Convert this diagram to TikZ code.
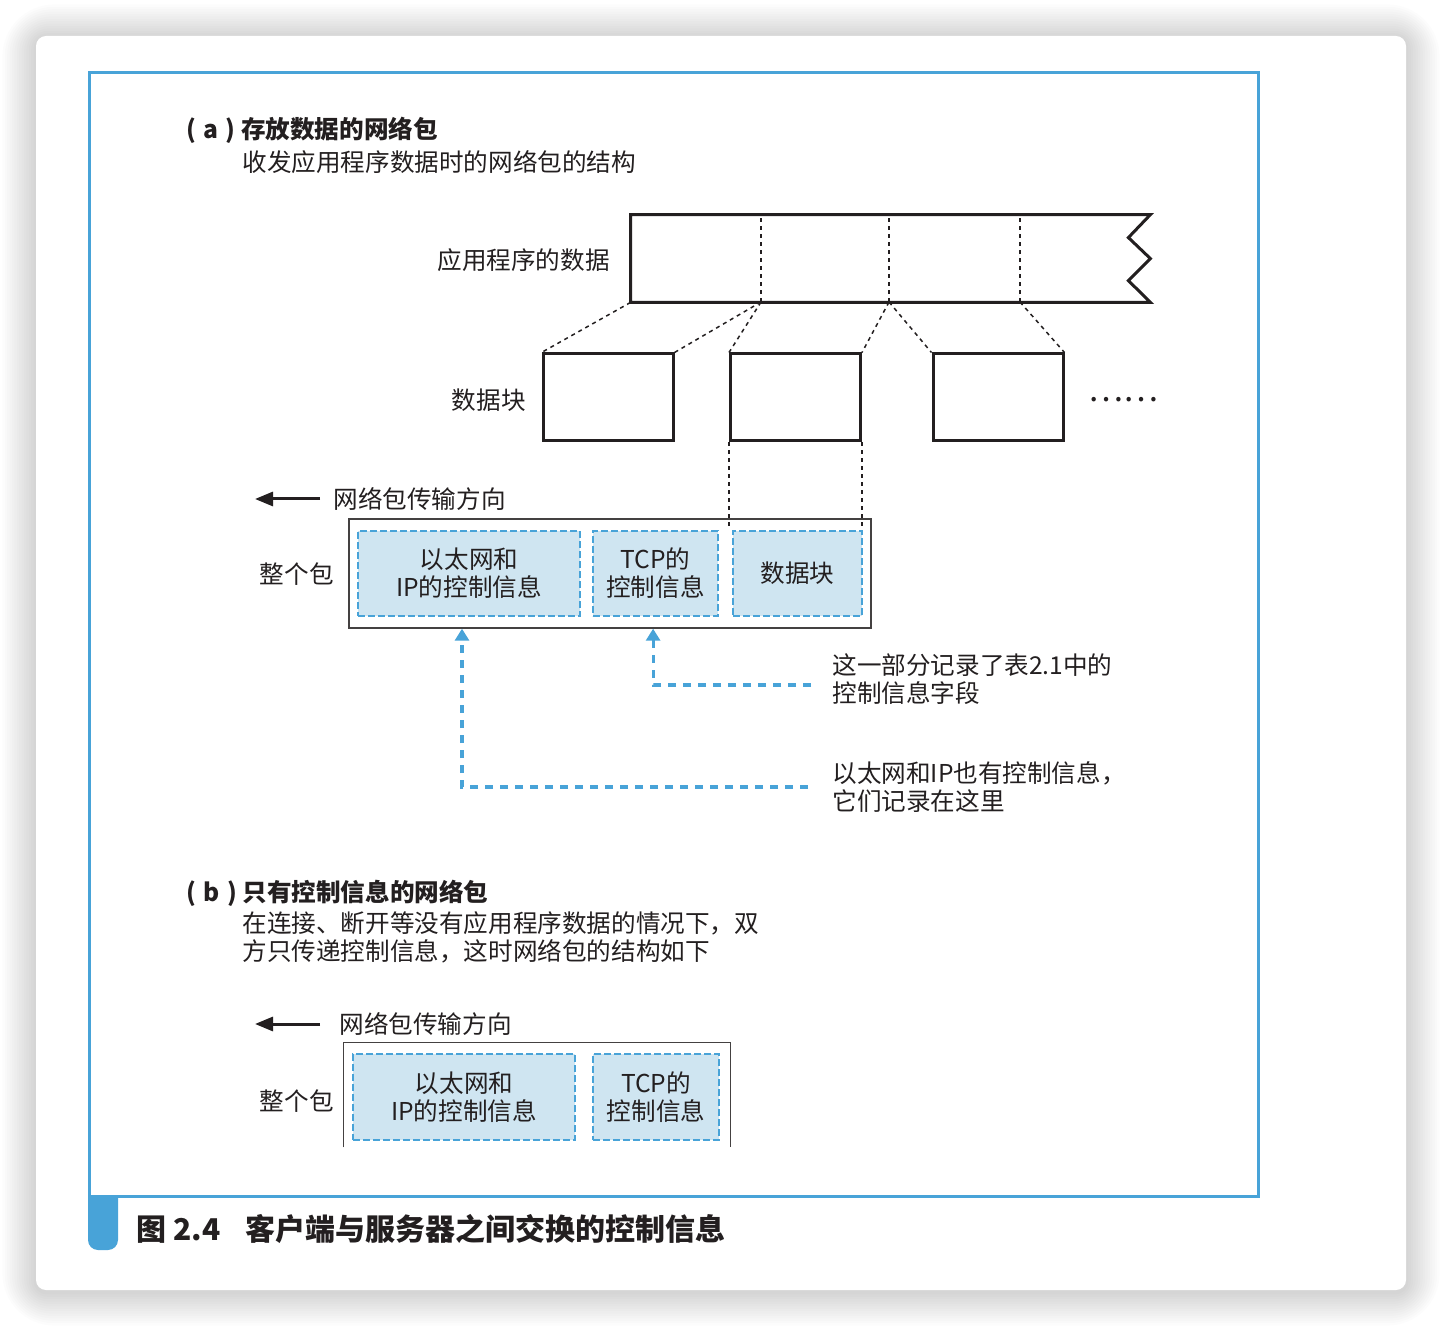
\documentclass[tikz,border=0pt]{standalone}
\usepackage{fontspec}
\setmainfont{Noto Sans CJK SC}
\usetikzlibrary{arrows.meta,positioning}

\definecolor{frameblue}{RGB}{72,163,216}
\definecolor{ctrlfill}{RGB}{207,229,241}
\definecolor{inkgray}{RGB}{35,31,32}

\begin{document}
\begin{tikzpicture}[
x=0.5pt, y=-0.5pt,
every node/.style={inner sep=0pt, text=inkgray},
txt/.style={font=\fontsize{12.3}{14}\selectfont, align=left},
heading/.style={font=\fontsize{12.3}{14}\selectfont\bfseries},
chunk/.style={rectangle, draw=inkgray, line width=1.5pt, minimum width=65pt, minimum height=43.5pt},
pkt/.style={draw=inkgray!85, line width=0.7pt},
ctrl/.style={rectangle, draw=frameblue, fill=ctrlfill, line width=1pt, dash pattern=on 3.3pt off 1.7pt, minimum height=42.5pt, align=center, font=\fontsize{12.3}{14}\selectfont},
link/.style={inkgray, line width=0.75pt, dash pattern=on 2pt off 2pt},
tip/.style={frameblue, line width=1.6pt, dash pattern=on 4pt off 3.5pt, -{Triangle[width=7pt,length=6pt]}},
dir/.style={inkgray, line width=1.5pt, -{Triangle[width=7pt,length=9pt]}}
]
\useasboundingbox (0,0) rectangle (1442,1326);

% card and frame
\foreach \i in {1,...,14} {
  \pgfmathsetmacro{\rr}{5+\i*1.5}
  \fill[black, opacity=0.01, rounded corners=\rr pt] (36-\i*2.4,38-\i*2.4) rectangle (1406+\i*2.4,1292+\i*2.4);
}
\fill[white, rounded corners=5pt] (36,36) rectangle (1406,1290);
\draw[frameblue, line width=1.5pt] (89,73) rectangle (1258,1196);
\fill[frameblue] (88,1196) [rounded corners=5pt] -- (88,1250) -- (118,1250) [sharp corners] -- (118,1196) -- cycle;
\node[anchor=west, font=\fontsize{15}{18}\selectfont\bfseries] (caption) at (136,1229) {图 2.4\hspace{0.85em}客户端与服务器之间交换的控制信息};

% (a)
\node[heading, anchor=west] (titlea) at (186,130) {(\hspace{0.3em}a\hspace{0.3em})\hspace{0.22em}存放数据的网络包};
\node[txt, anchor=west] (desca) at (242,162) {收发应用程序数据时的网络包的结构};

\node[minimum width=259.5pt, minimum height=43.5pt] (bar) at (890.5,258.5) {};
\draw[inkgray, line width=1.5pt] (bar.north west) -- (bar.north east) -- ++(-22,23) -- ++(22,21) -- ++(-22,22) -- (bar.south east) -- (bar.south west) -- cycle;
\node[txt, anchor=east] (applbl) at (610,260) {应用程序的数据};
\coordinate (cut1) at (761,302);
\coordinate (cut2) at (889,302);
\coordinate (cut3) at (1020,302);
\foreach \c in {cut1,cut2,cut3}
  \draw[link] (\c) -- (\c |- bar.north);

\node[chunk] (c1) at (608,397.5) {};
\node[chunk] (c2) at (795.5,397.5) {};
\node[chunk] (c3) at (998,397.5) {};
\node[txt, anchor=east] (chunklbl) at (526,400) {数据块};
\node[font=\fontsize{16.5}{18}\selectfont] (dots) at (1123,400) {……};

\draw[link] (bar.south west) -- (c1.north west);
\draw[link] (cut1) -- (c1.north east);
\draw[link] (cut1) -- (c2.north west);
\draw[link] (cut2) -- (c2.north east);
\draw[link] (cut2) -- (c3.north west);
\draw[link] (cut3) -- (c3.north east);

\node[txt, anchor=west] (dira) at (333,499) {网络包传输方向};
\coordinate (dirtipa) at (255,499);
\draw[dir] ([xshift=-6.5pt]dira.west) -- (dirtipa);

\node[pkt, minimum width=261pt, minimum height=54.5pt] (pkta) at (610,573.5) {};
\node[ctrl, minimum width=111pt] (etha) at (469,573.5) {以太网和\\IP的控制信息};
\node[ctrl, minimum width=62.5pt] (tcpa) at (655.5,573.5) {TCP的\\控制信息};
\node[ctrl, minimum width=64.5pt] (dataa) at (797.5,573.5) {数据块};
\node[txt, anchor=east] (wholea) at (334,574) {整个包};

\draw[link] (c2.south west) -- (c2.south west |- dataa.north);
\draw[link] (c2.south east) -- (c2.south east |- dataa.north);

\node[txt, anchor=west] (notetcp) at (832,679) {这一部分记录了表2.1中的\\控制信息字段};
\node[txt, anchor=west] (noteeth) at (832,787) {以太网和IP也有控制信息，\\它们记录在这里};
\draw[tip] ([xshift=-10.5pt,yshift=-3pt]notetcp.west) -| ([xshift=-1.2pt]tcpa.south |- pkta.south);
\draw[tip] ([xshift=-12pt]noteeth.west) -| ([xshift=-3.5pt]etha.south |- pkta.south);

% (b)
\node[heading, anchor=west] (titleb) at (186,893) {(\hspace{0.3em}b\hspace{0.3em})\hspace{0.22em}只有控制信息的网络包};
\node[txt, anchor=west] (descb) at (242,937) {在连接、断开等没有应用程序数据的情况下，双\\方只传递控制信息，这时网络包的结构如下};

\node[txt, anchor=west] (dirb) at (339,1024) {网络包传输方向};
\coordinate (dirtipb) at (255,1024);
\draw[dir] ([xshift=-9.5pt]dirb.west) -- (dirtipb);

\node[minimum width=193pt, minimum height=52pt] (pktb) at (537,1095) {};
\draw[pkt] (pktb.south west) |- (pktb.north east) -- (pktb.south east);
\node[ctrl, minimum width=111pt, minimum height=43pt] (ethb) at (464,1097) {以太网和\\IP的控制信息};
\node[ctrl, minimum width=63pt, minimum height=43pt] (tcpb) at (656,1097) {TCP的\\控制信息};
\node[txt, anchor=east] (wholeb) at (334,1101) {整个包};

\end{tikzpicture}
\end{document}
